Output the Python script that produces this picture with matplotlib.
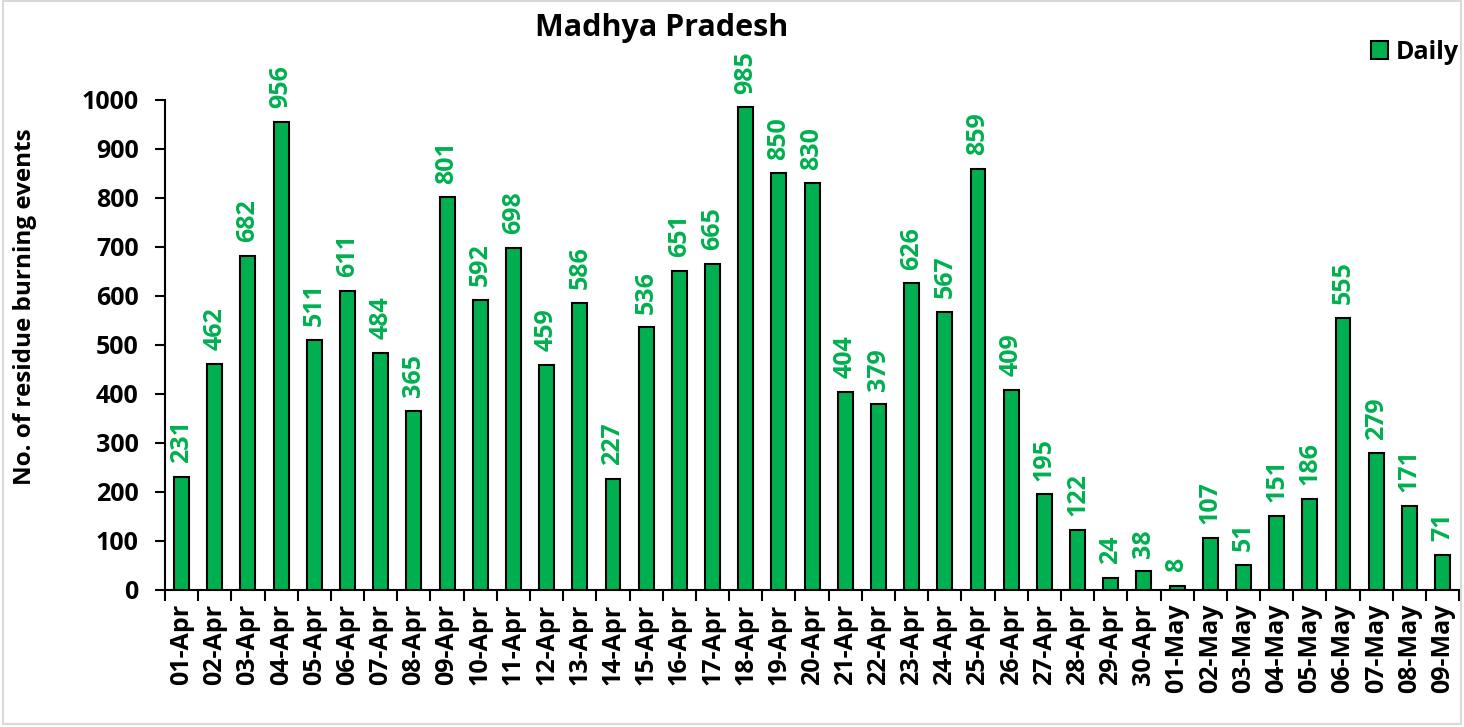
import matplotlib
matplotlib.use("Agg")
import matplotlib.pyplot as plt
from matplotlib.patches import Rectangle

dates = ["01-Apr","02-Apr","03-Apr","04-Apr","05-Apr","06-Apr","07-Apr","08-Apr","09-Apr","10-Apr",
         "11-Apr","12-Apr","13-Apr","14-Apr","15-Apr","16-Apr","17-Apr","18-Apr","19-Apr","20-Apr",
         "21-Apr","22-Apr","23-Apr","24-Apr","25-Apr","26-Apr","27-Apr","28-Apr","29-Apr","30-Apr",
         "01-May","02-May","03-May","04-May","05-May","06-May","07-May","08-May","09-May"]
daily = [231,462,682,956,511,611,484,365,801,592,
         698,459,586,227,536,651,665,985,850,830,
         404,379,626,567,859,409,195,122,24,38,
         8,107,51,151,186,555,279,171,71]
yticks = list(range(0, 1001, 100))

FONT = ["Open Sans", "DejaVu Sans"]
plt.rcParams["font.family"] = FONT
plt.rcParams["font.weight"] = "bold"

fig = plt.figure(figsize=(14.64, 7.27), dpi=100)
fig.patches.append(Rectangle((0.002, 0.004), 0.996, 0.994, transform=fig.transFigure,
                             fill=False, edgecolor="#d9d9d9", linewidth=1.5))
ax = fig.add_axes([0.1127, 0.1885, 0.884, 0.674])

x = list(range(len(dates)))
ax.bar(x, daily, width=0.45, color="#00B050", edgecolor="black", linewidth=1.5,
       label="Daily", zorder=3)
for xi, v in zip(x, daily):
    ax.text(xi, v + 28, str(v), rotation=90, ha="center", va="bottom",
            color="#00B050", fontsize=18, fontweight="bold", clip_on=False)

ax.set_xlim(-0.5, len(dates) - 0.5)
ax.set_ylim(0, 1000)
ax.set_yticks(yticks)
ax.set_yticklabels([str(t) for t in yticks], fontsize=18, fontweight="bold")
ax.set_xticks(x)
ax.set_xticklabels(dates, rotation=90, fontsize=18, fontweight="bold")
ax.set_xticks([i - 0.5 for i in range(len(dates) + 1)], minor=True)
ax.tick_params(axis="x", which="major", length=0, pad=10)
ax.tick_params(axis="x", which="minor", length=8, width=1.5, direction="out")
ax.tick_params(axis="y", length=7, width=1.5, direction="out", pad=12)
for s in ["top", "right"]:
    ax.spines[s].set_visible(False)
ax.spines["left"].set_linewidth(1.5)
ax.spines["bottom"].set_linewidth(1.5)

fig.text(25 / 1464, 1 - 307 / 727, "No. of residue burning events", rotation=90,
         ha="center", va="center", fontsize=17.5, fontweight="bold")
fig.text(0.4516, 0.962, "Madhya Pradesh", ha="center", va="center", fontsize=22, fontweight="bold")
fig.legend(loc="center right", bbox_to_anchor=(1.012, 0.928), frameon=False,
           handlelength=0.7, handleheight=0.7, handletextpad=0.3,
           prop={"weight": "bold", "size": 18, "family": FONT})

fig.savefig("out.png", dpi=100)
